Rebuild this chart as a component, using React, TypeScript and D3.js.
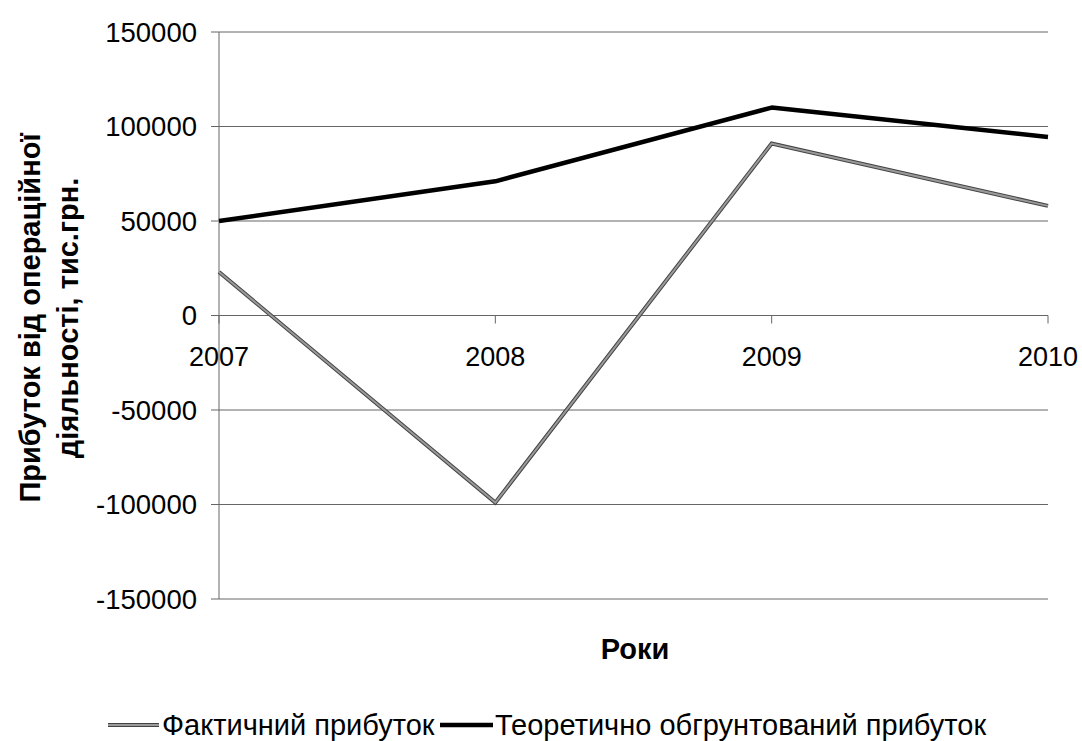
import React, { useEffect, useRef } from "react";
import * as d3 from "d3";

const years = ["2007", "2008", "2009", "2010"];
const actualProfit = [23000, -99000, 91000, 58000];
const theoreticalProfit = [50000, 71000, 110000, 94500];
const yTicks = [150000, 100000, 50000, 0, -50000, -100000, -150000];

const seriesNames = ["Фактичний прибуток", "Теоретично обгрунтований прибуток"];

const App = () => {
  const svgRef = useRef<SVGSVGElement | null>(null);

  useEffect(() => {
    const width = 1082;
    const height = 741;
    const left = 219;
    const right = 1048;
    const top = 32;
    const bottom = 599;
    const font = "'Liberation Sans', Arial, sans-serif";

    const svg = d3.select(svgRef.current);
    svg.selectAll("*").remove();
    svg.attr("width", width).attr("height", height).attr("viewBox", [0, 0, width, height]);

    svg.append("rect").attr("width", width).attr("height", height).attr("fill", "white");

    const x = d3.scalePoint<string>().domain(years).range([left, right]);
    const y = d3.scaleLinear().domain([-150000, 150000]).range([bottom, top]);

    // grid + y ticks
    const gy = svg.append("g");
    gy.selectAll("line.grid")
      .data(yTicks)
      .join("line")
      .attr("class", "grid")
      .attr("x1", left - 8)
      .attr("x2", right)
      .attr("y1", (d) => y(d))
      .attr("y2", (d) => y(d))
      .attr("stroke", "#666")
      .attr("stroke-width", 1);

    gy.selectAll("text")
      .data(yTicks)
      .join("text")
      .attr("x", left - 22)
      .attr("y", (d) => y(d))
      .attr("dy", "0.36em")
      .attr("text-anchor", "end")
      .attr("font-family", font)
      .attr("font-size", 27.5)
      .attr("fill", "#000")
      .text((d) => String(d));

    // left axis line
    svg.append("line")
      .attr("x1", left).attr("x2", left)
      .attr("y1", top).attr("y2", bottom)
      .attr("stroke", "#666");

    // x ticks on zero line
    svg.append("g")
      .selectAll("line")
      .data(years)
      .join("line")
      .attr("x1", (d) => x(d)!)
      .attr("x2", (d) => x(d)!)
      .attr("y1", y(0))
      .attr("y2", y(0) + 8)
      .attr("stroke", "#666");

    svg.append("g")
      .selectAll("text")
      .data(years)
      .join("text")
      .attr("x", (d) => x(d)!)
      .attr("y", y(0) + 50)
      .attr("text-anchor", "middle")
      .attr("font-family", font)
      .attr("font-size", 27)
      .text((d) => d);

    const line = d3
      .line<number>()
      .x((_, i) => x(years[i])!)
      .y((d) => y(d));

    // actual profit: gray line with dark edges
    svg.append("path")
      .attr("d", line(actualProfit))
      .attr("fill", "none")
      .attr("stroke", "#444")
      .attr("stroke-width", 4)
      .attr("stroke-linejoin", "miter");
    svg.append("path")
      .attr("d", line(actualProfit))
      .attr("fill", "none")
      .attr("stroke", "#9a9a9a")
      .attr("stroke-width", 2);

    svg.append("path")
      .attr("d", line(theoreticalProfit))
      .attr("fill", "none")
      .attr("stroke", "#000")
      .attr("stroke-width", 4.5)
      .attr("stroke-linejoin", "round");

    // axis titles
    const yTitle = svg.append("text")
      .attr("transform", `translate(0,318) rotate(-90)`)
      .attr("text-anchor", "middle")
      .attr("font-family", font)
      .attr("font-weight", "bold")
      .attr("font-size", 29);
    yTitle.append("tspan").attr("x", 0).attr("y", 40).text("Прибуток від операційної");
    yTitle.append("tspan").attr("x", 0).attr("y", 78).text("діяльності, тис.грн.");

    svg.append("text")
      .attr("x", 635)
      .attr("y", 659)
      .attr("text-anchor", "middle")
      .attr("font-family", font)
      .attr("font-weight", "bold")
      .attr("font-size", 29)
      .text("Роки");

    // legend
    const legY = 725;
    const leg = svg.append("g").attr("font-family", font).attr("font-size", 29);
    leg.append("line")
      .attr("x1", 108).attr("x2", 159)
      .attr("y1", legY).attr("y2", legY)
      .attr("stroke", "#444").attr("stroke-width", 4);
    leg.append("line")
      .attr("x1", 108).attr("x2", 159)
      .attr("y1", legY).attr("y2", legY)
      .attr("stroke", "#9a9a9a").attr("stroke-width", 2);
    leg.append("text")
      .attr("x", 162).attr("y", legY).attr("dy", "0.36em")
      .text(seriesNames[0]);
    leg.append("line")
      .attr("x1", 440).attr("x2", 493)
      .attr("y1", legY).attr("y2", legY)
      .attr("stroke", "#000").attr("stroke-width", 4.5);
    leg.append("text")
      .attr("x", 495).attr("y", legY).attr("dy", "0.36em")
      .text(seriesNames[1]);
  }, []);

  return (
    <div style={{ position: "absolute", left: 0, top: 0 }}>
      <svg ref={svgRef} style={{ display: "block" }}></svg>
    </div>
  );
};

export default App;
